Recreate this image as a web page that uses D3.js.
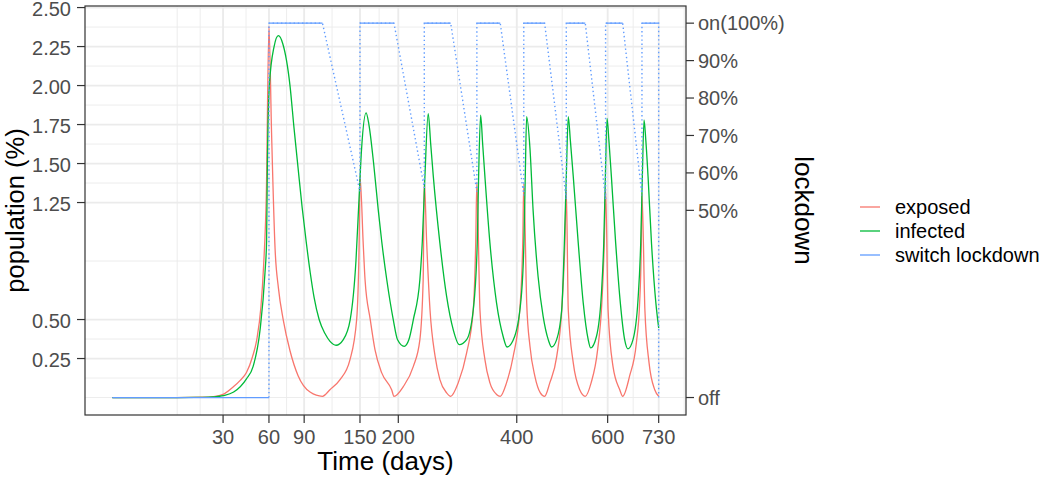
<!DOCTYPE html>
<html><head><meta charset="utf-8">
<script src="https://cdn.jsdelivr.net/npm/d3@7"></script>
<style>body{margin:0;background:#fff;} text{font-family:"Liberation Sans",Arial,sans-serif;}</style>
</head><body><svg id="c" width="1046" height="480"></svg>
<script>
// ---- data ----
const exposedDays = [0,10,20,25,30,36,40,44,48,51,54,56,58,60,62,64.8,67.5,71.4,77.2,84.4,95.6,108,115.8,126.8,138,146,149,150,
  154,156.2,162.7,168.7,177.5,190.8,194,207,221.6,231.3,236.3,238,
  241.6,246.8,254.8,262.4,273.3,280,292.6,307,318.6,323,325,
  330.5,339.5,348.7,361,368,380,393,406,412,414,
  420,426.5,436.7,448,457,468,483,494,501,504,
  508.4,519.6,534.3,547,560.6,576,586,592,595,
  601,613,629.7,637,654.6,671.6,680,684.5,686,
  693.6,704.5,719.5,730];
const exposedPct = [0,0,0.002,0.006,0.02,0.07,0.11,0.16,0.26,0.37,0.58,0.85,1.3,2.38,1.7,0.95,0.7,0.5,0.3,0.14,0.035,0.008,0.05,0.115,0.24,0.5,1.0,1.42,
  0.98,0.755,0.5,0.307,0.158,0.05,0.008,0.07,0.2,0.37,0.755,1.39,
  1.0,0.563,0.264,0.115,0.03,0.008,0.094,0.286,0.563,1.0,1.38,
  0.563,0.243,0.094,0.02,0.008,0.094,0.264,0.563,1.0,1.37,
  0.6,0.33,0.136,0.03,0.008,0.094,0.264,0.563,1.0,1.33,
  0.563,0.222,0.05,0.008,0.094,0.307,0.607,1.0,1.34,
  0.563,0.2,0.05,0.008,0.14,0.35,0.607,1.0,1.31,
  0.563,0.222,0.05,0.008];

const infectedDays = [0,10,20,25,30,36,44,48.5,53.4,57,58.2,58.8,60.3,64,67.4,71,
  77.2,80.7,84.4,88.1,91.9,95.8,99.6,104.6,110.6,115.9,122.4,130.3,138.4,145.2,148.8,152,157.5,
  161,167,173,177.5,184.2,193,199,208.4,215,221.6,231.3,235,239,244,
  248,252,262.4,273.3,284.2,294.3,307,318.6,325.7,328.1,331.7,
  335.5,339.5,348.7,361,373.4,381,396,409.6,414.3,417,419.8,
  426.5,433,443.3,453.9,464.7,471.9,482.8,493.9,499.7,504,508.4,
  513,519.6,530.9,542.3,553.8,559.4,573.3,585.1,590.6,594.5,598.6,
  603,609.1,619.6,631.1,641.9,650.2,663,675.8,682.8,687,691.4,
  696,701.9,710.9,722.5,730];
const infectedPct = [0,0,0.001,0.004,0.012,0.035,0.12,0.2,0.435,0.8,1.0,1.5,2.0,2.25,2.32,2.27,
  2.0,1.73,1.47,1.22,1.0,0.8,0.64,0.5,0.41,0.36,0.335,0.37,0.5,0.88,1.27,1.6,1.825,
  1.75,1.5,1.2,1.0,0.755,0.5,0.37,0.328,0.37,0.5,0.755,1.0,1.42,1.82,
  1.62,1.416,0.99,0.648,0.435,0.339,0.371,0.563,0.99,1.416,1.81,
  1.62,1.416,0.99,0.607,0.393,0.324,0.393,0.67,0.99,1.416,1.80,
  1.6,1.2,0.776,0.52,0.371,0.324,0.371,0.563,0.99,1.416,1.80,
  1.65,1.416,0.99,0.607,0.371,0.318,0.393,0.67,0.99,1.416,1.79,
  1.65,1.416,0.99,0.607,0.371,0.312,0.371,0.627,0.99,1.416,1.78,
  1.65,1.416,0.99,0.607,0.446];

const lockStart = [60,150,238,325,414,504,595,686];
const lockEnd = [108,194,280,368,457,547,637,730];
const switchLevel = [0.55,0.56,0.55,0.54,0.53,0.53,0.54];
const lockScale = 2.4;  // secondary axis: population % = lockdown fraction * 2.4

const xBreaks = [30,60,90,150,200,400,600,730];
const yBreaks = [0.25,0.5,1.25,1.5,1.75,2.0,2.25,2.5];
const yLabels = ["0.25","0.50","1.25","1.50","1.75","2.00","2.25","2.50"];
const lockBreaks = [0,0.5,0.6,0.7,0.8,0.9,1];
const lockLabels = ["off","50%","60%","70%","80%","90%","on(100%)"];
const seriesNames = ["exposed","infected","switch lockdown"];
const seriesColors = ["#F8766D","#00BA38","#619CFF"];

// ---- layout ----
const P = {l:85, r:686, t:6, b:415};
const sMax = Math.sqrt(730), ex = sMax*0.05;
const xs = d3.scaleLinear().domain([-ex, sMax+ex]).range([P.l, P.r]); // sqrt space
const x = d3.scaleSqrt().domain([0,730]).range([xs(0), xs(sMax)]);
const y = d3.scaleLinear().domain([-0.112, 2.51]).range([P.b, P.t]);

const svg = d3.select("#c");
const clipId = "pc";
svg.append("defs").append("clipPath").attr("id", clipId).append("rect")
  .attr("x",P.l).attr("y",P.t).attr("width",P.r-P.l).attr("height",P.b-P.t);

// grid
function minorOf(b){
  const ext = [b[0]-(b[1]-b[0]), ...b, b[b.length-1]+(b[b.length-1]-b[b.length-2])];
  const out = [];
  for (let i=0;i<ext.length-1;i++){ out.push(ext[i]); out.push((ext[i]+ext[i+1])/2); }
  out.push(ext[ext.length-1]);
  return out;
}
const gGrid = svg.append("g");
const xsB = xBreaks.map(Math.sqrt);
minorOf(xsB).forEach(v=>{
  const px = xs(v); if (px<P.l||px>P.r) return;
  gGrid.append("line").attr("x1",px).attr("x2",px).attr("y1",P.t).attr("y2",P.b)
    .attr("stroke","#EBEBEB").attr("stroke-width",0.9);
});
minorOf(yBreaks).forEach(v=>{
  const py = y(v); if (py<P.t||py>P.b) return;
  gGrid.append("line").attr("x1",P.l).attr("x2",P.r).attr("y1",py).attr("y2",py)
    .attr("stroke","#EBEBEB").attr("stroke-width",0.9);
});
xBreaks.forEach(v=>{
  gGrid.append("line").attr("x1",x(v)).attr("x2",x(v)).attr("y1",P.t).attr("y2",P.b)
    .attr("stroke","#EBEBEB").attr("stroke-width",1.8);
});
yBreaks.forEach(v=>{
  gGrid.append("line").attr("x1",P.l).attr("x2",P.r).attr("y1",y(v)).attr("y2",y(v))
    .attr("stroke","#EBEBEB").attr("stroke-width",1.8);
});

// series
const gData = svg.append("g").attr("clip-path",`url(#${clipId})`);
const line = d3.line().x(d=>x(d[0])).y(d=>y(d[1])).curve(d3.curveMonotoneX);
const lineStraight = d3.line().x(d=>x(d[0])).y(d=>y(d[1]));

const exposed = exposedDays.map((d,i)=>[d, exposedPct[i]]);
const infected = infectedDays.map((d,i)=>[d, infectedPct[i]]);
gData.append("path").attr("d", line(exposed)).attr("fill","none")
  .attr("stroke",seriesColors[0]).attr("stroke-width",1.3);
gData.append("path").attr("d", line(infected)).attr("fill","none")
  .attr("stroke",seriesColors[1]).attr("stroke-width",1.3);

// switch lockdown: dotted transitions + solid states
const dotted = [[lockStart[0],0],[lockStart[0],lockScale]];
for (let i=0;i<lockStart.length;i++){
  dotted.push([lockEnd[i], lockScale]);
  if (i<lockStart.length-1){
    dotted.push([lockStart[i+1], switchLevel[i]*lockScale]);
    dotted.push([lockStart[i+1], lockScale]);
  }
}
dotted.push([lockEnd[lockEnd.length-1], 0]);
gData.append("path").attr("d", lineStraight(dotted)).attr("fill","none")
  .attr("stroke",seriesColors[2]).attr("stroke-width",1.4)
  .attr("stroke-dasharray","1.4,2.8").attr("stroke-linecap","butt");
gData.append("path").attr("d", lineStraight([[0,0],[lockStart[0],0]])).attr("fill","none")
  .attr("stroke",seriesColors[2]).attr("stroke-width",1.3);
lockStart.forEach((s,i)=>{
  gData.append("path").attr("d", lineStraight([[s,lockScale],[lockEnd[i],lockScale]])).attr("fill","none")
    .attr("stroke",seriesColors[2]).attr("stroke-width",1.3);
});

// panel border
svg.append("rect").attr("x",P.l).attr("y",P.t).attr("width",P.r-P.l).attr("height",P.b-P.t)
  .attr("fill","none").attr("stroke","#333333").attr("stroke-width",1.2);

// axes
const tickCol="#333333", txtCol="#4D4D4D";
const gAx = svg.append("g");
yBreaks.forEach((v,i)=>{
  gAx.append("line").attr("x1",P.l-8).attr("x2",P.l).attr("y1",y(v)).attr("y2",y(v)).attr("stroke",tickCol).attr("stroke-width",1.2);
  gAx.append("text").attr("x",P.l-14).attr("y",y(v)).attr("dy","0.4em").attr("text-anchor","end")
    .attr("font-size",20).attr("fill",txtCol).text(yLabels[i]);
});
xBreaks.forEach(v=>{
  gAx.append("line").attr("x1",x(v)).attr("x2",x(v)).attr("y1",P.b).attr("y2",P.b+8).attr("stroke",tickCol).attr("stroke-width",1.2);
  gAx.append("text").attr("x",x(v)).attr("y",443.5).attr("text-anchor","middle")
    .attr("font-size",20).attr("fill",txtCol).text(v);
});
lockBreaks.forEach((v,i)=>{
  const py = y(v*lockScale);
  gAx.append("line").attr("x1",P.r).attr("x2",P.r+8).attr("y1",py).attr("y2",py).attr("stroke",tickCol).attr("stroke-width",1.2);
  gAx.append("text").attr("x",P.r+12).attr("y",py).attr("dy","0.36em").attr("text-anchor","start")
    .attr("font-size",20).attr("fill",txtCol).text(lockLabels[i]);
});

// titles
svg.append("text").attr("x",(P.l+P.r)/2).attr("y",470).attr("text-anchor","middle")
  .attr("font-size",26).attr("fill","#000").text("Time (days)");
svg.append("text").attr("transform",`translate(24,${(P.t+P.b)/2}) rotate(-90)`).attr("text-anchor","middle")
  .attr("font-size",25.5).attr("fill","#000").text("population (%)");
svg.append("text").attr("transform",`translate(795,${(P.t+P.b)/2}) rotate(90)`).attr("text-anchor","middle")
  .attr("font-size",26).attr("fill","#000").text("lockdown");

// legend
const gLeg = svg.append("g");
seriesNames.forEach((n,i)=>{
  const cy = 207 + i*24;
  gLeg.append("line").attr("x1",860).attr("x2",880).attr("y1",cy).attr("y2",cy)
    .attr("stroke",seriesColors[i]).attr("stroke-width",1.3);
  gLeg.append("text").attr("x",895).attr("y",cy).attr("dy","0.36em")
    .attr("font-size",20).attr("fill","#000").text(n);
});
</script></body></html>
